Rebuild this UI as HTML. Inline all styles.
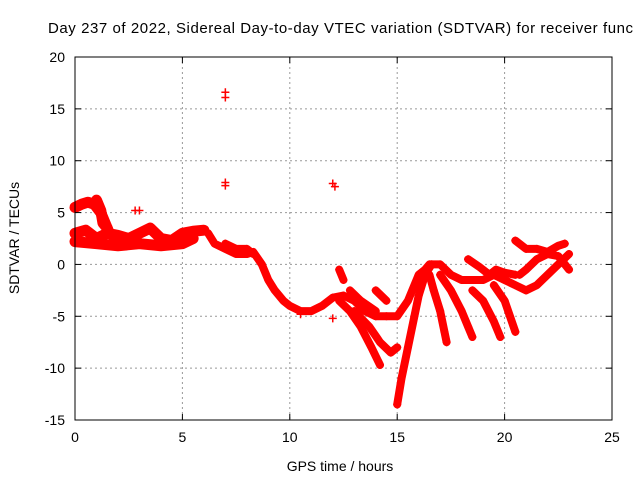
<!DOCTYPE html>
<html><head><meta charset="utf-8"><style>
body{margin:0;background:#fff}
svg{display:block;font-family:"Liberation Sans",sans-serif}
</style></head><body>
<svg id="c" width="640" height="480">
<text x="48" y="33" font-size="15" text-anchor="start" textLength="585" lengthAdjust="spacing">Day 237 of 2022, Sidereal Day-to-day VTEC variation (SDTVAR) for receiver func</text>
<text x="340" y="471" font-size="14" text-anchor="middle">GPS time / hours</text>
<text transform="translate(19,238) rotate(-90)" font-size="14" text-anchor="middle">SDTVAR / TECUs</text>
<g id="grid"></g><g id="marks"></g><g id="axes"></g>
</svg>
<script>
const xTicks=[0,5,10,15,20,25];
const yTicks=[20,15,10,5,0,-5,-10,-15];
const outliers=[[7,16.6],[7,16.1],[7,7.9],[7,7.6],[12,7.8],[12.1,7.5],[2.8,5.2],[3,5.2],[12,-5.2],[10.5,-4.8]];
const trackUpper=[[0,5.5],[0.3,5.8],[0.6,6],[0.9,5.8],[1.2,5],[1.4,4],[1.6,3],[2,2.5]];
const trackLoop=[[1,6.2],[1.2,5.2],[1.3,4],[1.5,3.5]];
const trackMid=[[0,3],[0.5,3.3],[1,2.5],[1.5,3],[2,2.8],[2.5,2.5],[3,3],[3.5,3.5],[4,2.5],[4.5,2.3],[5,3],[5.5,3.2],[6,3.3]];
const trackLow=[[0,2.2],[1,2],[2,1.8],[3,2],[4,1.8],[5,2],[5.5,2.5]];
const trackMain=[[6.2,3],[6.5,2],[7,1.5],[7.5,1],[8,1],[8.3,1.2],[8.7,0],[9,-1.5],[9.3,-2.5],[9.7,-3.5],[10,-4],[10.5,-4.5],[11,-4.5],[11.5,-4],[12,-3.2],[12.5,-3],[13,-3.5],[13.5,-4.5],[14,-5],[14.5,-5],[15,-5],[15.5,-3.5],[16,-1],[16.3,-0.5],[16.5,0],[17,0],[17.5,-1],[18,-1.5],[18.5,-1.5],[19,-1.5],[19.5,-1],[20,-1.5],[20.5,-2],[21,-2.5],[21.5,-2],[22,-1],[22.5,0],[23,1]];
const trackB=[[7,2],[7.5,1.5],[8,1.5],[8.3,1]];
const trackLate1=[[20.5,2.3],[21,1.5],[21.5,1.5],[22,1.2],[22.5,1.8],[22.8,2]];
const trackLate2=[[20.7,-1],[21,-0.5],[21.5,0.5],[22,1],[22.5,0.8],[23,-0.5]];
const trackLate3=[[18.3,0.5],[18.8,-0.2],[19.3,-1],[19.6,-0.5],[20,-0.8],[20.5,-1]];
const arc1=[[15,-13.5],[15.2,-11],[15.5,-8],[15.8,-5],[16,-3],[16.3,-1],[16.6,0]];
const arc2=[[16.5,-1],[16.7,-2.5],[17,-4.5],[17.2,-6.5],[17.3,-7.5]];
const arc3=[[17,-1],[17.5,-2.5],[18,-4.5],[18.3,-6],[18.5,-7]];
const arc4=[[18.5,-2.5],[19,-3.5],[19.5,-5.5],[19.8,-7]];
const arc5=[[19.5,-2],[20,-3.5],[20.5,-6.5]];
const arc6=[[12.3,-3.5],[12.8,-4.5],[13.3,-6],[13.8,-8],[14.2,-9.7]];
const arc7=[[13,-4.5],[13.7,-6],[14.2,-7.5],[14.7,-8.5],[15,-8]];
const arc8=[[12.3,-0.5],[12.5,-1.5]];
const arc9=[[12.8,-2.5],[13.3,-3.5],[14,-4.5]];
const arc10=[[14,-2.5],[14.5,-3.5]];
const tracks=[trackUpper,trackLoop,trackMid,trackLow,trackMain,trackB,trackLate1,trackLate2,trackLate3,arc1,arc2,arc3,arc4,arc5,arc6,arc7,arc8,arc9,arc10];
const X0=75,X1=612,Y0=57,Y1=420;
const sx=v=>X0+(v-0)/25*(X1-X0);
const sy=v=>Y0+(20-v)/35*(Y1-Y0);
const NS="http://www.w3.org/2000/svg";
function mk(t,a,p){const e=document.createElementNS(NS,t);for(const k in a)e.setAttribute(k,a[k]);p.appendChild(e);return e;}
const grid=document.getElementById('grid'),marks=document.getElementById('marks'),axes=document.getElementById('axes');
xTicks.forEach(t=>{const x=sx(t);
 if(t>0&&t<25){const l=mk('line',{x1:x,x2:x,y1:Y0,y2:Y1,stroke:'#999','stroke-dasharray':'2,3'},grid);
 
 }
 const tx=mk('text',{x:x,y:Y1+22,'font-size':14,'text-anchor':'middle'},axes);tx.textContent=t;
 
 
 mk('line',{x1:x,x2:x,y1:Y1,y2:Y1-6,stroke:'#000'},axes);mk('line',{x1:x,x2:x,y1:Y0,y2:Y0+6,stroke:'#000'},axes);});
yTicks.forEach(t=>{const y=sy(t);
 if(t<20&&t>-15){const l=mk('line',{x1:X0,x2:X1,y1:y,y2:y,stroke:'#999','stroke-dasharray':'2,3'},grid);
 
 }
 const tx=mk('text',{x:X0-10,y:y+5,'font-size':14,'text-anchor':'end'},axes);tx.textContent=t;
 
 
 mk('line',{x1:X0,x2:X0+6,y1:y,y2:y,stroke:'#000'},axes);mk('line',{x1:X1,x2:X1-6,y1:y,y2:y,stroke:'#000'},axes);});
const fr=mk('rect',{x:X0,y:Y0,width:X1-X0,height:Y1-Y0,fill:'none',stroke:'#000','stroke-width':1},axes);


function plus(x,y){const g=mk('path',{d:`M${x-4},${y}h8M${x},${y-4}v8`,stroke:'#f00','stroke-width':1.5},marks);
 
 }
tracks.forEach((tr,i)=>{
 const p=mk('polyline',{points:tr.map(d=>sx(d[0])+','+sy(d[1])).join(' '),fill:'none',stroke:'#f00','stroke-width':i<4?11:8,'stroke-linejoin':'round','stroke-linecap':'round'},marks);
 
 
 tr.forEach(d=>plus(sx(d[0]),sy(d[1])));});
outliers.forEach(d=>plus(sx(d[0]),sy(d[1])));
</script>
</body></html>
